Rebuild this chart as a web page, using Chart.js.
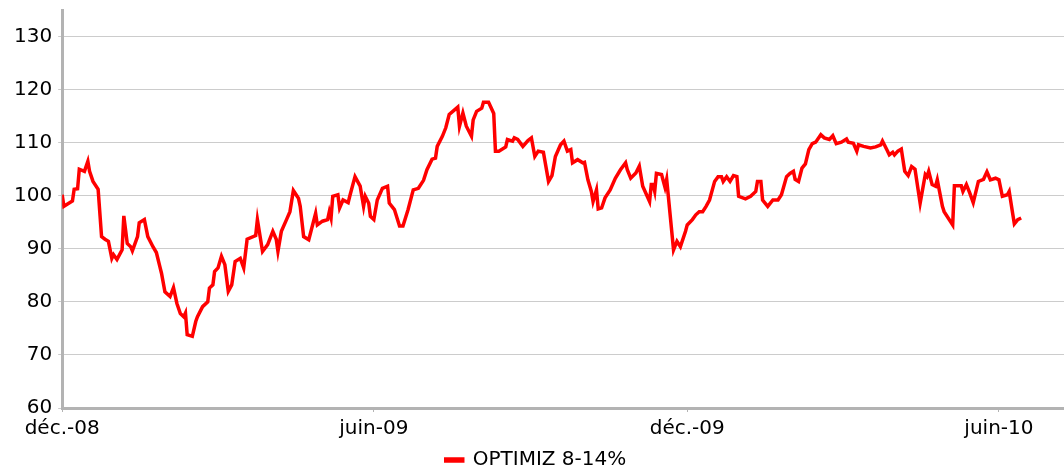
<!DOCTYPE html>
<html>
<head>
<meta charset="utf-8">
<script src="https://cdn.jsdelivr.net/npm/chart.js@4"></script>
<style>
  html, body { margin: 0; padding: 0; background: #fff; }
  #wrap { width: 1064px; height: 467px; }
</style>
</head>
<body>
<div id="wrap"><canvas id="optimizChart"></canvas></div>
<script>
// OPTIMIZ 8-14% - valeur liquidative, base 100 au 1er déc. 2008

// jours depuis le 01/12/2008
var days = [0, 1, 6, 7, 9, 10, 13, 15, 16, 18, 21, 23, 25, 27, 29, 30, 32, 35, 36, 38,
    40, 41, 44, 45, 48, 50, 53, 55, 57, 58, 60, 63, 65, 67, 69, 71, 72, 73, 76, 78,
    79, 82, 85, 86, 88, 89, 91, 93, 95, 97, 99, 101, 104, 106, 108, 113, 114, 117, 120, 123,
    125, 126, 128, 131, 133, 135, 137, 138, 139, 141, 144, 148, 149, 152, 155, 156, 157, 158, 161, 162,
    164, 167, 168, 171, 174, 176, 177, 179, 180, 182, 184, 187, 190, 191, 194, 197, 199, 202, 205, 208,
    211, 213, 216, 218, 219, 222, 224, 226, 231, 232, 234, 236, 239, 240, 242, 245, 246, 249, 252, 253,
    255, 259, 260, 263, 264, 266, 269, 272, 274, 276, 278, 281, 284, 286, 288, 291, 293, 295, 297, 298,
    301, 304, 305, 307, 309, 310, 312, 313, 315, 317, 320, 323, 326, 329, 330, 332, 335, 337, 339, 343,
    344, 345, 346, 347, 350, 352, 353, 357, 359, 361, 364, 365, 368, 370, 372, 374, 376, 378, 381, 383,
    385, 386, 388, 390, 392, 394, 395, 399, 402, 405, 406, 408, 409, 412, 415, 418, 420, 423, 425, 427,
    428, 430, 432, 434, 436, 438, 440, 443, 445, 448, 450, 452, 455, 458, 459, 462, 464, 465, 468, 472,
    475, 478, 479, 482, 483, 485, 486, 488, 490, 492, 494, 496, 498, 501, 504, 505, 506, 508, 510, 511,
    514, 515, 520, 521, 525, 526, 528, 530, 532, 535, 538, 540, 542, 545, 547, 549, 552, 553, 555, 556,
    558, 560];

var values = [100.2, 98, 99, 101.2, 101.3, 105, 104.6, 106.5, 104.6, 102.7, 101.2, 92.3, 91.8, 91.4, 88.2, 88.9, 88, 89.8, 96.2, 91,
    90.4, 89.6, 92.3, 94.9, 95.5, 92.3, 90.4, 89.3, 86.7, 85.4, 81.9, 81, 82.7, 79.7, 77.8, 77.2, 77.9, 73.8, 73.5, 76.3,
    77.2, 79.1, 80, 82.6, 83.2, 85.7, 86.4, 88.6, 87, 82, 83.2, 87.6, 88.2, 86.4, 91.8, 92.5, 95.5, 89.5, 90.8, 93.3,
    91.8, 89.5, 93.3, 95.5, 97, 101, 100, 99.5, 98, 92.3, 91.7, 96.7, 94.5, 95.2, 95.5, 97, 95.8, 99.9, 100.2, 97.7,
    99.2, 98.7, 100, 103.6, 101.8, 98, 99.9, 98.6, 96.1, 95.5, 99.2, 101.4, 101.8, 98.6, 97.4, 94.3, 94.3, 97.4, 101.1, 101.4,
    102.9, 104.9, 106.9, 107.1, 109.3, 111.2, 112.8, 115.3, 116.7, 113.1, 115.6, 113.1, 111.2, 114.3, 115.9, 116.5, 117.6, 117.6, 115.5, 108.4,
    108.4, 109.2, 110.6, 110.3, 110.9, 110.6, 109.3, 110.4, 110.9, 107.4, 108.4, 108.2, 102.7, 103.8, 107.4, 109.6, 110.3, 108.4, 108.7, 106.2,
    106.8, 106.2, 106.3, 103, 100.8, 98.9, 101.1, 97.5, 97.7, 99.6, 101.1, 103.3, 104.9, 106.2, 104.9, 103.3, 104.3, 105.6, 101.8, 98.9,
    102.1, 102.1, 100.8, 104.2, 104, 101.6, 103.1, 89.8, 91.4, 90.4, 93.3, 94.5, 95.5, 96.4, 97, 97, 98, 99.2, 102.7, 103.6,
    103.6, 102.7, 103.6, 102.7, 103.8, 103.6, 99.9, 99.4, 99.9, 100.8, 102.7, 102.7, 99.2, 98, 99.2, 99.2, 100.2, 103.6, 104.2, 104.6,
    103.1, 102.7, 105.2, 106, 108.7, 109.8, 110.1, 111.5, 110.9, 110.6, 111.3, 109.8, 110.1, 110.7, 110.1, 109.9, 108.4, 109.6, 109.3, 109,
    109.2, 109.6, 110.3, 108.4, 107.7, 108.2, 107.7, 108.4, 108.8, 104.6, 103.8, 105.5, 105, 98.6, 104, 103.6, 104.6, 102.1, 101.8, 103,
    98, 97, 94.5, 101.9, 101.9, 100.8, 102.1, 100.5, 98.7, 102.7, 103.1, 104.5, 103, 103.3, 103, 99.9, 100.2, 100.8, 96.7, 94.7,
    95.5, 95.8];

// graduations de l'axe des dates
var tickDays = [0, 182, 365, 547];
var tickLabels = ['déc.-08', 'juin-09', 'déc.-09', 'juin-10'];

var points = days.map(function (d, i) { return { x: d, y: values[i] }; });

Chart.defaults.font.family = "'DejaVu Sans', sans-serif";
Chart.defaults.font.size = 20;
Chart.defaults.color = '#000';

var ctx = document.getElementById('optimizChart');

var optimizChart = new Chart(ctx, {
    type: 'line',
    data: {
        datasets: [{
            label: 'OPTIMIZ 8-14%',
            data: points,
            borderColor: '#ff0000',
            backgroundColor: '#ff0000',
            borderWidth: 3.5,
            pointRadius: 0,
            tension: 0,
            fill: false
        }]
    },
    options: {
        responsive: true,
        maintainAspectRatio: false,
        animation: false,
        layout: { padding: { top: 10, left: 8, right: 0, bottom: -13 } },
        plugins: {
            tooltip: { enabled: false },
            legend: {
                position: 'bottom',
                labels: { boxWidth: 17, boxHeight: 2, padding: 4 }
            }
        },
        scales: {
            x: {
                type: 'linear',
                min: 0,
                max: 585,
                afterBuildTicks: function (axis) {
                    axis.ticks = tickDays.map(function (d) { return { value: d }; });
                },
                ticks: {
                    padding: 5,
                    maxRotation: 0,
                    callback: function (v) { return tickLabels[tickDays.indexOf(v)]; }
                },
                grid: { drawOnChartArea: false, tickLength: 4, color: '#b3b3b3' },
                border: { color: '#b3b3b3', width: 3 }
            },
            y: {
                min: 60,
                max: 135,
                afterFit: function (scale) { scale.paddingTop = 0; },
                ticks: {
                    stepSize: 10,
                    padding: 6,
                    callback: function (v) { return v % 10 === 0 ? v : null; }
                },
                grid: { color: '#cccccc', tickLength: 4 },
                border: { color: '#b3b3b3', width: 3 }
            }
        }
    }
});
</script>
</body>
</html>
